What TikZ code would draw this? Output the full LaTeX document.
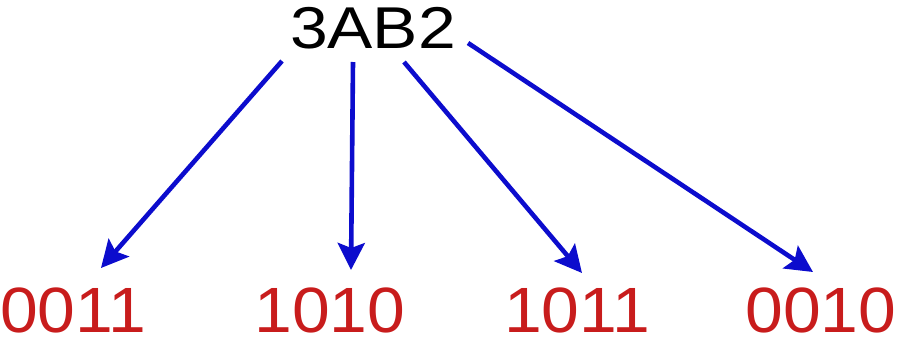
\documentclass[tikz,border=0pt]{standalone}
\usepackage{fontspec}
\setmainfont{Liberation Sans}
\usetikzlibrary{arrows.meta}
\definecolor{arrblue}{RGB}{12,12,205}
\definecolor{numred}{RGB}{200,28,28}
\tikzset{
  hexlabel/.style={inner sep=0pt, font=\fontsize{59pt}{59pt}\selectfont, xscale=1.15, text=black},
  binlabel/.style={inner sep=0pt, font=\fontsize{64pt}{64pt}\selectfont, xscale=1.06, text=numred},
  split/.style={draw=arrblue, line width=4.6pt, -{Stealth[length=27pt,width=27pt,inset=5pt]}}
}
\begin{document}
\begin{tikzpicture}[x=1pt,y=-1pt]
\useasboundingbox (0,0) rectangle (903,341);
\node[hexlabel] (hex) at (373,28) {3AB2};
\node[binlabel] (b1) at (73,310) {0011};
\node[binlabel] (b2) at (330,310) {1010};
\node[binlabel] (b3) at (577,310) {1011};
\node[binlabel] (b4) at (821,310) {0010};
\coordinate (s1) at (282,61);
\coordinate (s2) at (353,62);
\coordinate (s3) at (404,62);
\coordinate (s4) at (468,43);
\coordinate (e1) at (101,268);
\coordinate (e2) at (351,270);
\coordinate (e3) at (582,273);
\coordinate (e4) at (813,272);
\draw[split] (s1) -- (e1);
\draw[split] (s2) -- (e2);
\draw[split] (s3) -- (e3);
\draw[split] (s4) -- (e4);
\end{tikzpicture}
\end{document}
